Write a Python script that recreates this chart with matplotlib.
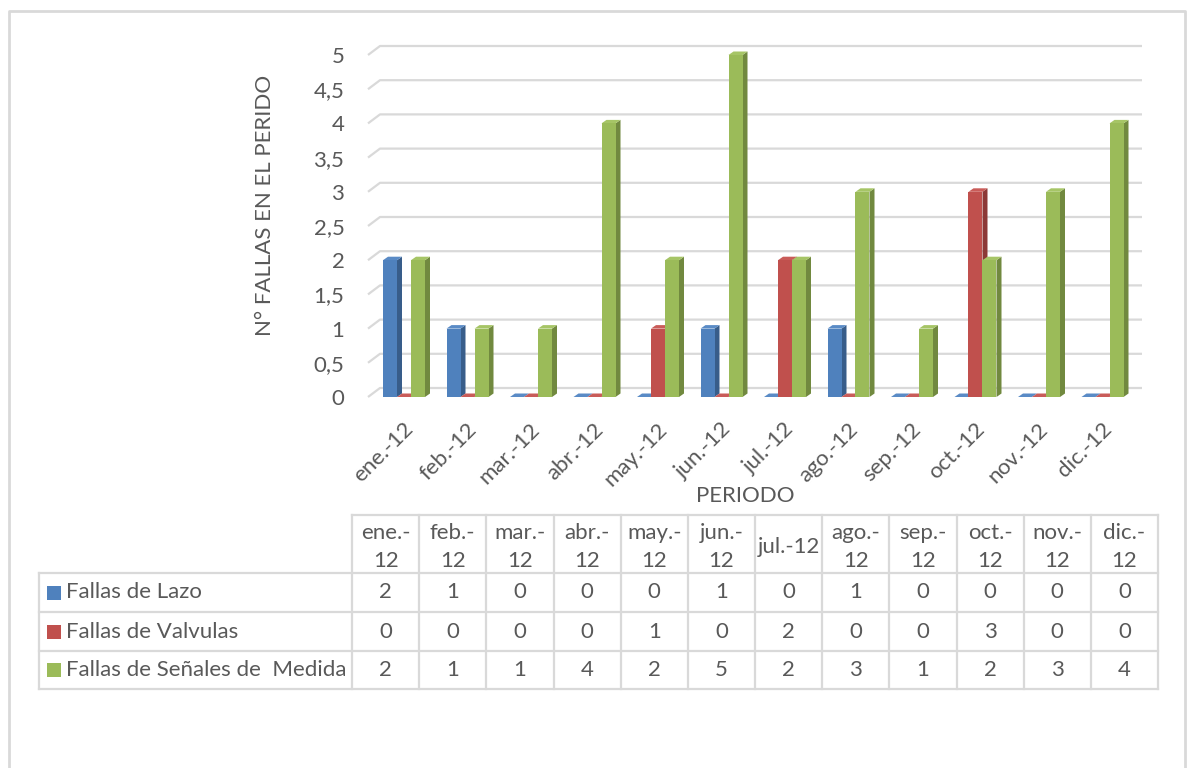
import matplotlib
matplotlib.use("Agg")
import matplotlib.pyplot as plt
from matplotlib.patches import Polygon, Rectangle
import numpy as np

plt.rcParams['font.family'] = ['Lato', 'DejaVu Sans']

# ---------------- data ----------------
months = ["ene.-12", "feb.-12", "mar.-12", "abr.-12", "may.-12", "jun.-12",
          "jul.-12", "ago.-12", "sep.-12", "oct.-12", "nov.-12", "dic.-12"]
table_headers = ["ene.-\n12", "feb.-\n12", "mar.-\n12", "abr.-\n12", "may.-\n12", "jun.-\n12",
                 "jul.-12", "ago.-\n12", "sep.-\n12", "oct.-\n12", "nov.-\n12", "dic.-\n12"]
series_names = ["Fallas de Lazo", "Fallas de Valvulas", "Fallas de Señales de  Medida"]
lazo = [2, 1, 0, 0, 0, 1, 0, 1, 0, 0, 0, 0]
valvulas = [0, 0, 0, 0, 1, 0, 2, 0, 0, 3, 0, 0]
senales = [2, 1, 1, 4, 2, 5, 2, 3, 1, 2, 3, 4]
y_ticks = [0, 0.5, 1, 1.5, 2, 2.5, 3, 3.5, 4, 4.5, 5]
y_tick_labels = ["0", "0,5", "1", "1,5", "2", "2,5", "3", "3,5", "4", "4,5", "5"]

series = [lazo, valvulas, senales]
front_cols = ["#4F81BD", "#C0504D", "#9BBB59"]
side_cols = ["#385D8A", "#8C3836", "#71893F"]
top_cols = ["#5A8BC6", "#C95C59", "#A6C566"]
TXT = "#595959"
GRID = "#D9D9D9"
FS = 16

W, H = 1187, 768
DPI = 100
fig = plt.figure(figsize=(W / DPI, H / DPI), dpi=DPI)

def fx(px):
    return px / W

def fy(py):
    return 1 - py / H

# ---------------- chart axes ----------------
L, R, B, T = 368, 1142, 397, 40
ax = fig.add_axes([fx(L), fy(B), fx(R) - fx(L), fy(T) - fy(B)])
px_per_x = 63.5
px_per_y = (397 - 55) / 5.0
c0 = 404
ax.set_xlim((L - c0) / px_per_x, (R - c0) / px_per_x)
ax.set_ylim(0, (B - T) / px_per_y)
for s in ax.spines.values():
    s.set_visible(False)

# back-wall gridlines with side-wall slant
gdx, gdy = 12 / px_per_x, 9 / px_per_y
x_left = ax.get_xlim()[0]
x_right = ax.get_xlim()[1]
for v in y_ticks:
    ax.plot([x_left, x_left + gdx, x_right], [v, v + gdy, v + gdy],
            color=GRID, lw=1.6, zorder=1, solid_capstyle='butt', clip_on=False)

ax.set_yticks(y_ticks)
ax.set_yticklabels(y_tick_labels, color=TXT, fontsize=FS)
ax.tick_params(axis='y', length=0, pad=17)
ax.set_xticks([])

# 3D-looking bars
bw = 14 / px_per_x
ddx, ddy = 5 / px_per_x, 3.5 / px_per_y
x = np.arange(len(months))
offsets = [-bw, 0, bw]
for k, (vals, off) in enumerate(zip(series, offsets)):
    xs = x + off
    for xi, v in zip(xs, vals):
        x0, x1 = xi - bw / 2, xi + bw / 2
        side = Polygon([(x1, 0), (x1 + ddx, ddy), (x1 + ddx, v + ddy), (x1, v)],
                       closed=True, fc=side_cols[k], ec='none', zorder=3 + k)
        top = Polygon([(x0, v), (x0 + ddx, v + ddy), (x1 + ddx, v + ddy), (x1, v)],
                      closed=True, fc=top_cols[k], ec='none', zorder=3 + k)
        ax.add_patch(side)
        ax.add_patch(top)
    ax.bar(xs, vals, width=bw, color=front_cols[k], zorder=3 + k, linewidth=0)

# x tick labels (rotated)
for i, m in enumerate(months):
    ax.annotate(m, xy=(i, 0), xycoords='data', xytext=(6, -29),
                textcoords='offset pixels', rotation=45, rotation_mode='anchor',
                ha='right', va='center', fontsize=FS, color=TXT, annotation_clip=False)

# ---------------- overlay (pixel coords) ----------------
ov = fig.add_axes([0, 0, 1, 1], zorder=-1)
ov.set_xlim(0, W)
ov.set_ylim(H, 0)
ov.axis('off')

# outer border
ov.plot([9, 9, 1185, 1185], [H + 5, 11, 11, H + 5], color=GRID, lw=2)

# axis titles
ov.text(265, 205, "N° FALLAS EN EL PERIDO", rotation=90, ha='center', va='center',
        fontsize=FS, color=TXT)
ov.text(745, 496, "PERIODO", ha='center', va='center', fontsize=FS, color=TXT)

# data table
tx0, tx1 = 352, 1158
colw = (tx1 - tx0) / 12
row_y = [515, 573, 612, 651, 689]
lab_x0 = 39
lw_t = 1.6
ov.plot([tx0, tx1], [row_y[0], row_y[0]], color=GRID, lw=lw_t)
for yy in row_y[1:]:
    ov.plot([lab_x0, tx1], [yy, yy], color=GRID, lw=lw_t)
for j in range(13):
    xx = tx0 + j * colw
    ov.plot([xx, xx], [row_y[0], row_y[-1]], color=GRID, lw=lw_t)
ov.plot([lab_x0, lab_x0], [row_y[1], row_y[-1]], color=GRID, lw=lw_t)

for j, hdr in enumerate(table_headers):
    ov.text(tx0 + (j + 0.5) * colw, (row_y[0] + row_y[1]) / 2 + 3, hdr, ha='center',
            va='center', fontsize=FS, color=TXT, linespacing=1.45)
for r, (name, vals) in enumerate(zip(series_names, series)):
    yc = (row_y[r + 1] + row_y[r + 2]) / 2
    ov.add_patch(Rectangle((47, yc - 7), 14, 14, fc=front_cols[r], ec='none'))
    ov.text(66, yc, name, ha='left', va='center', fontsize=FS, color=TXT)
    for j, v in enumerate(vals):
        ov.text(tx0 + (j + 0.5) * colw, yc, str(v), ha='center', va='center',
                fontsize=FS, color=TXT)

fig.savefig("out.png", dpi=DPI)
